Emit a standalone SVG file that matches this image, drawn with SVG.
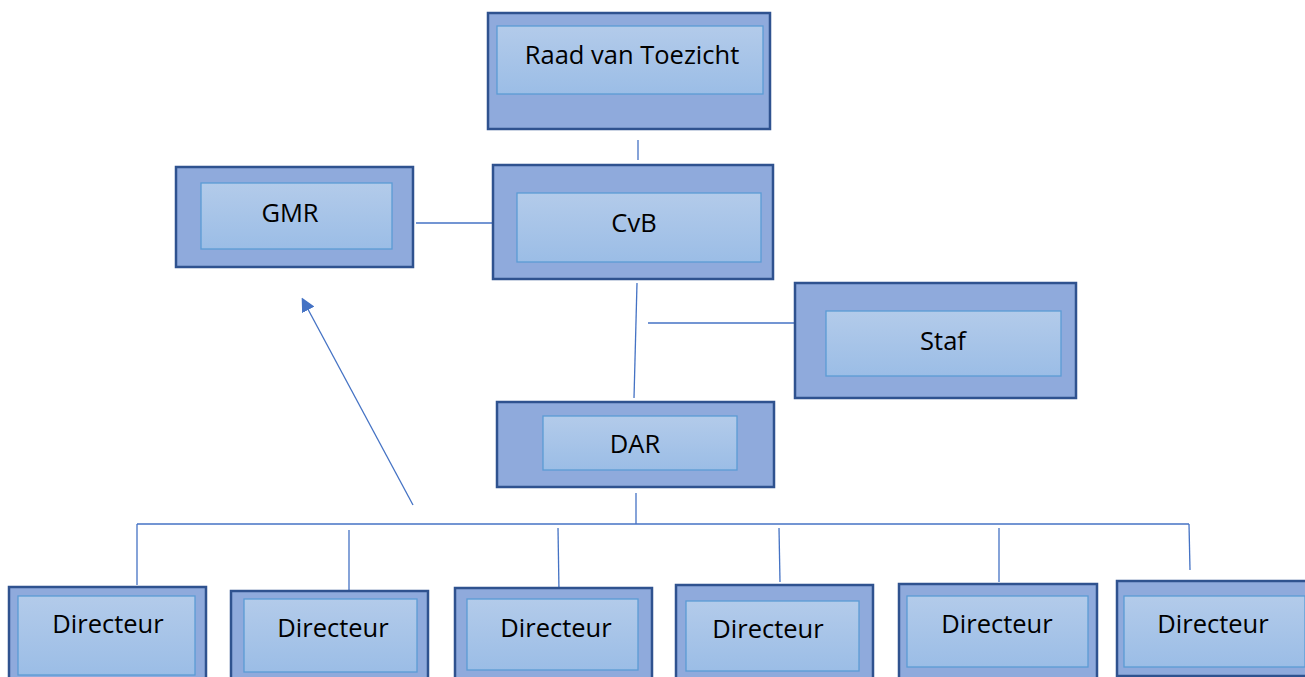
<svg xmlns="http://www.w3.org/2000/svg" width="1305" height="677" viewBox="0 0 1305 677">
<defs>
<linearGradient id="g" x1="0" y1="0" x2="0" y2="1">
<stop offset="0" stop-color="#b3cbea"/>
<stop offset="1" stop-color="#9bbde6"/>
</linearGradient>
<marker id="ah2" viewBox="0 0 10 10" refX="8" refY="5" markerWidth="14" markerHeight="14" markerUnits="userSpaceOnUse" orient="auto">
<path d="M0,0 L10,5 L0,10 z" fill="#4472c4"/>
</marker>
</defs>
<style>
.o{fill:#8faadc;stroke:#2f528f;stroke-width:2.5}
.i{fill:url(#g);stroke:#5b9bd5;stroke-width:1.3}
.t{font-family:"Open Sans","Liberation Sans",sans-serif;font-size:25.5px;fill:#000;text-anchor:middle}
.c{stroke:#4472c4;stroke-width:1.3;fill:none}
</style>
<rect width="1305" height="677" fill="#fff"/>
<g id="connectors">
<line class="c" x1="638" y1="140" x2="638" y2="160"/>
<line class="c" x1="416" y1="223" x2="493" y2="223"/>
<line class="c" x1="637" y1="283" x2="634" y2="398"/>
<line class="c" x1="648" y1="323" x2="795" y2="323"/>
<line class="c" x1="636" y1="493" x2="636" y2="524"/>
<line class="c" x1="137" y1="524" x2="1189" y2="524"/>
<line class="c" x1="137" y1="524" x2="137" y2="585"/>
<line class="c" x1="349" y1="530" x2="349" y2="590"/>
<line class="c" x1="558" y1="528" x2="559" y2="592"/>
<line class="c" x1="779" y1="528" x2="780" y2="582"/>
<line class="c" x1="999" y1="528" x2="999" y2="582"/>
<line class="c" x1="1189" y1="524" x2="1190" y2="570"/>
<line class="c" x1="413" y1="505" x2="303" y2="300" marker-end="url(#ah2)"/>
</g>
<g id="raad">
<rect class="o" x="488" y="13" width="282" height="116"/>
<rect class="i" x="497" y="26" width="266" height="68"/>
<text class="t" x="632" y="64">Raad van Toezicht</text>
</g>
<g id="gmr">
<rect class="o" x="176" y="167" width="237" height="100"/>
<rect class="i" x="201" y="183" width="191" height="66"/>
<text class="t" x="290" y="222">GMR</text>
</g>
<g id="cvb">
<rect class="o" x="493" y="165" width="280" height="114"/>
<rect class="i" x="517" y="193" width="244" height="69"/>
<text class="t" x="634" y="232">CvB</text>
</g>
<g id="staf">
<rect class="o" x="795" y="283" width="281" height="115"/>
<rect class="i" x="826" y="311" width="235" height="65"/>
<text class="t" x="943" y="350">Staf</text>
</g>
<g id="dar">
<rect class="o" x="497" y="402" width="277" height="85"/>
<rect class="i" x="543" y="416" width="194" height="54"/>
<text class="t" x="635" y="453">DAR</text>
</g>
<g id="dir1">
<rect class="o" x="9" y="587" width="197" height="95"/>
<rect class="i" x="18" y="596" width="177" height="79"/>
<text class="t" x="108" y="633">Directeur</text>
</g>
<g id="dir2">
<rect class="o" x="231" y="591" width="197" height="95"/>
<rect class="i" x="244" y="599" width="173" height="73"/>
<text class="t" x="333" y="637">Directeur</text>
</g>
<g id="dir3">
<rect class="o" x="455" y="588" width="197" height="95"/>
<rect class="i" x="467" y="599" width="171" height="71"/>
<text class="t" x="556" y="637">Directeur</text>
</g>
<g id="dir4">
<rect class="o" x="676" y="585" width="197" height="95"/>
<rect class="i" x="686" y="601" width="173" height="70"/>
<text class="t" x="768" y="638">Directeur</text>
</g>
<g id="dir5">
<rect class="o" x="899" y="584" width="198" height="95"/>
<rect class="i" x="907" y="596" width="181" height="71"/>
<text class="t" x="997" y="633">Directeur</text>
</g>
<g id="dir6">
<rect class="o" x="1117" y="581" width="195" height="95"/>
<rect class="i" x="1124" y="596" width="181" height="71"/>
<text class="t" x="1213" y="633">Directeur</text>
</g>
</svg>
